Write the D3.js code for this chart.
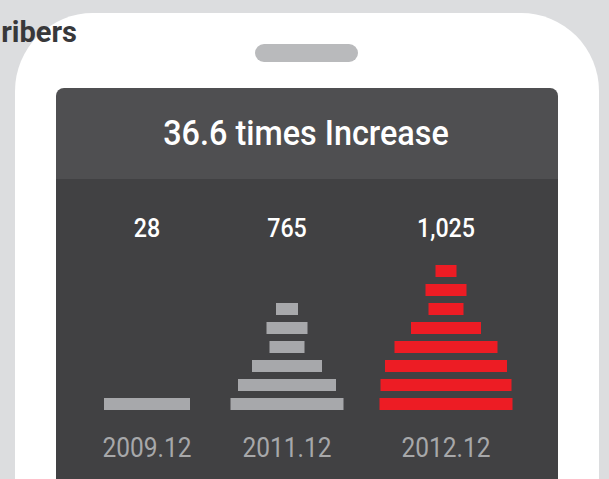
<!DOCTYPE html>
<html>
<head>
<meta charset="utf-8">
<script src="https://cdn.jsdelivr.net/npm/d3@7"></script>
<style>
  html, body { margin: 0; padding: 0; background: #dcdddf; }
  svg { display: block; font-family: Roboto, "Noto Sans", sans-serif; }
</style>
</head>
<body>
<div id="graph"><svg></svg></div>
<script>
// data
let years = ["2009.12", "2011.12", "2012.12"];
let totals = [28, 765, 1025];
let highlight = [false, false, true];
// bar lengths per year, from bottom level up
let bars2009 = [86];
let bars2011 = [113, 98, 70, 35, 41, 22];
let bars2012 = [133, 131, 122, 103, 70, 35, 41, 21];
let titleText = "36.6 times Increase";
let headingText = "ribers";

let width = 609;
let height = 479;

let svg = d3.select("#graph svg")
  .attr("width", width)
  .attr("height", height);

// background
svg.append("rect")
  .attr("width", width)
  .attr("height", height)
  .attr("fill", "#dcdddf");

// phone body
svg.append("rect")
  .attr("x", 15)
  .attr("y", 13)
  .attr("width", 584)
  .attr("height", 620)
  .attr("rx", 78)
  .attr("fill", "#ffffff");

// speaker slot
svg.append("rect")
  .attr("x", 255)
  .attr("y", 44)
  .attr("width", 103)
  .attr("height", 18)
  .attr("rx", 9)
  .attr("fill", "#b9babc");

// screen: header + body
svg.append("rect")
  .attr("x", 56)
  .attr("y", 88)
  .attr("width", 502)
  .attr("height", 500)
  .attr("rx", 8)
  .attr("fill", "#4f4f51");

svg.append("rect")
  .attr("x", 56)
  .attr("y", 179)
  .attr("width", 502)
  .attr("height", 400)
  .attr("fill", "#414143");

// heading (cut off at left edge)
svg.append("text")
  .attr("x", 77)
  .attr("y", 42)
  .attr("text-anchor", "end")
  .style("font-size", "29px")
  .style("font-weight", "bold")
  .style("fill", "#38383a")
  .text(headingText);

// title, slightly condensed
svg.append("g")
  .attr("transform", "translate(306,145) scale(0.9,1)")
  .append("text")
  .attr("text-anchor", "middle")
  .style("font-size", "36px")
  .style("font-weight", 500)
  .style("fill", "#ffffff")
  .text(titleText);

// scales
let xScale = d3.scaleOrdinal()
  .domain(years)
  .range([147, 287, 446]);

let lenScale = d3.scaleLinear()
  .domain([0, 133])
  .range([0, 133]);

let levelScale = d3.scaleLinear()
  .domain([0, 8])
  .range([410, 258]);

let barHeight = 12;
let fmt = d3.format(",");

let table = years.map((y, i) => ({
  year: y,
  total: totals[i],
  red: highlight[i],
  bars: [bars2009, bars2011, bars2012][i]
}));

let cols = svg.append("g")
  .selectAll("g")
  .data(table)
  .join("g");

// totals
cols.append("g")
  .attr("transform", (d) => "translate(" + xScale(d.year) + ",237) scale(0.93,1)")
  .append("text")
  .attr("text-anchor", "middle")
  .style("font-size", "25px")
  .style("font-weight", 500)
  .style("fill", "#ffffff")
  .text((d) => fmt(d.total));

// stacked pyramid bars
cols.selectAll("rect")
  .data((d) => d.bars.map((v, k) => ({ year: d.year, red: d.red, level: k, value: v })))
  .join("rect")
  .attr("x", (d) => xScale(d.year) - lenScale(d.value) / 2)
  .attr("y", (d) => levelScale(d.level) - barHeight)
  .attr("width", (d) => lenScale(d.value))
  .attr("height", barHeight)
  .attr("fill", (d) => (d.red ? "#ed1c24" : "#a7a8ab"));

// year labels
cols.append("g")
  .attr("transform", (d) => "translate(" + xScale(d.year) + ",457) scale(0.875,1)")
  .append("text")
  .attr("text-anchor", "middle")
  .style("font-size", "28px")
  .style("fill", "#a7a8aa")
  .text((d) => d.year);
</script>
</body>
</html>
